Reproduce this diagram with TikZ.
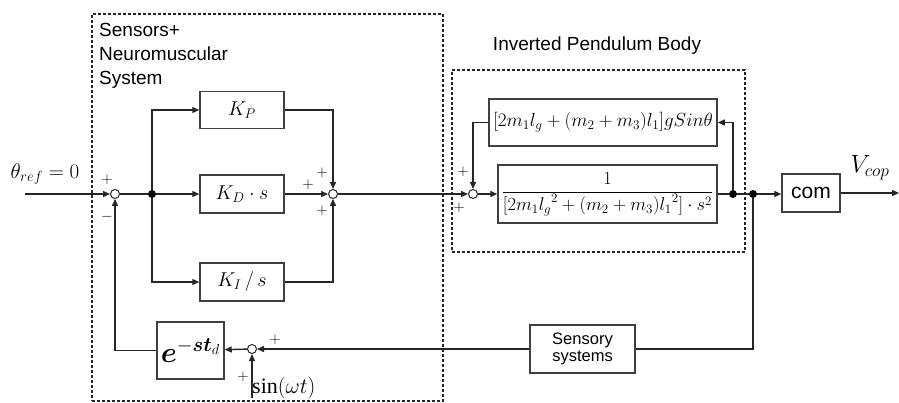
\documentclass[tikz,border=0pt]{standalone}
\usepackage{fix-cm}
\usepackage{amsmath}
\usepackage{fontspec}
\setmainfont{Liberation Serif}
\setsansfont{Liberation Sans}
\usetikzlibrary{arrows.meta}
\begin{document}
\begin{tikzpicture}[x=1pt,y=-1pt,
  line/.style={line width=1.4pt,draw=black!85},
  arr/.style={line,-{Triangle[length=7pt,width=6pt]}},
  blk/.style={draw=black!75,line width=1.5pt,fill=white,inner sep=2pt,
    font=\fontsize{20}{24}\selectfont},
  sbox/.style={draw=black!75,line width=1.5pt,fill=white,align=center,
    font=\sffamily\fontsize{16.5}{19}\selectfont},
  sumc/.style={circle,draw=black!85,line width=1pt,fill=white,
    minimum size=9pt,inner sep=0pt},
  dot/.style={circle,fill=black,minimum size=8pt,inner sep=0pt},
  dashbox/.style={draw=black!85,line width=1.4pt,dash pattern=on 3pt off 2pt,
    inner sep=0pt},
  sgn/.style={font=\fontsize{15}{15}\selectfont,inner sep=0pt},
  ttl/.style={font=\sffamily\fontsize{19}{24}\selectfont,align=left,inner sep=0pt}]

\useasboundingbox (0,0) rectangle (899,403);

% dashed group frames
\node[dashbox,minimum width=351pt,minimum height=387pt] (nms) at (267.5,207.5) {};
\node[dashbox,minimum width=293pt,minimum height=182pt] (ipb) at (598.5,161) {};
\node[ttl,anchor=north west] (nmstitle) at (99,23) {Sensors+\\Neuromuscular\\System};
\node[ttl] (ipbtitle) at (597,46) {Inverted Pendulum Body};

% controller
\node[sumc] (s1) at (115,194) {};
\node[dot] (j1) at (152,194) {};
\node[blk,minimum width=84pt,minimum height=37pt] (kp) at (242,110) {$K_P$};
\node[blk,minimum width=84pt,minimum height=38pt] (kd) at (242,194) {$K_D\cdot s$};
\node[blk,minimum width=84pt,minimum height=38pt] (ki) at (242,282) {$K_I\,/\,s$};
\node[sumc] (s2) at (333,194) {};

% body
\node[sumc] (s3) at (473,194) {};
\node[blk,minimum width=228pt,minimum height=47pt,font=\fontsize{19}{22}\selectfont] (fb) at (603,122.5)
  {$[2m_1 l_g+(m_2+m_3)l_1]gSin\theta$};
\node[blk,minimum width=219pt,minimum height=58pt,inner sep=1pt,font=\fontsize{18.5}{22}\selectfont] (tf) at (607.5,194)
  {$\dfrac{1}{[2m_1 {l_g}^{2}+(m_2+m_3){l_1}^{2}]\cdot s^{2}}$};
\node[dot] (d1) at (733,194) {};
\node[dot] (d2) at (753,194) {};
\node[sbox,minimum width=58pt,minimum height=38pt,font=\sffamily\fontsize{21}{24}\selectfont] (com) at (811,193) {com};
\coordinate (out) at (899,193);

% feedback path
\node[sbox,minimum width=105pt,minimum height=48pt] (sens) at (582.5,349) {Sensory\\[-2pt]systems};
\node[sumc] (s4) at (252,349) {};
\node[blk,minimum width=67pt,minimum height=57pt,font=\fontsize{29}{32}\selectfont] (ed) at (190.5,350.5)
  {$\boldsymbol{e}^{-\boldsymbol{s}\boldsymbol{t}_{d}}$};
\coordinate (in) at (25,194);
\coordinate (sinin) at (252,398);

% labels
\node[font=\fontsize{21}{24}\selectfont,inner sep=0pt] (thref) at (45,174) {$\theta_{ref}=0$};
\node[font=\fontsize{25}{28}\selectfont,inner sep=0pt] (vcop) at (870,168) {$V_{cop}$};
\node[font=\fontsize{22}{24}\selectfont,inner sep=0pt,anchor=west] (sinlbl) at (252,388) {$\sin(\omega t)$};

\node[sgn] (p1a) at (107,180) {$+$};
\node[sgn] (p1b) at (107,217) {$-$};
\node[sgn] (p2a) at (322,173) {$+$};
\node[sgn] (p2b) at (308,185) {$+$};
\node[sgn] (p2c) at (322,211) {$+$};
\node[sgn] (p3a) at (463,172) {$+$};
\node[sgn] (p3b) at (459,208) {$+$};
\node[sgn] (p4a) at (275,340) {$+$};
\node[sgn] (p4b) at (243,377) {$+$};

% connectors
\draw[arr] (in) -- (s1);
\draw[line] (s1) -- (j1);
\draw[arr] (j1) |- (kp);
\draw[arr] (j1) -- (kd);
\draw[arr] (j1) |- (ki);
\draw[arr] (kp) -| (s2);
\draw[arr] (kd) -- (s2);
\draw[arr] (ki) -| (s2);
\draw[arr] (s2) -- (s3);
\draw[arr] (s3) -- (tf);
\draw[line] (tf) -- (d1);
\draw[line] (d1) -- (d2);
\draw[arr] (d1) |- (fb);
\draw[arr] (fb) -| (s3);
\draw[arr] (d2) -- (com.west |- d2);
\draw[arr] (com) -- (out);
\draw[line] (d2) |- (sens);
\draw[arr] (sens) -- (s4);
\draw[arr] (sinin) -- (s4);
\draw[arr] (s4) -- (ed);
\draw[arr] (ed) -| (s1);
\end{tikzpicture}
\end{document}
